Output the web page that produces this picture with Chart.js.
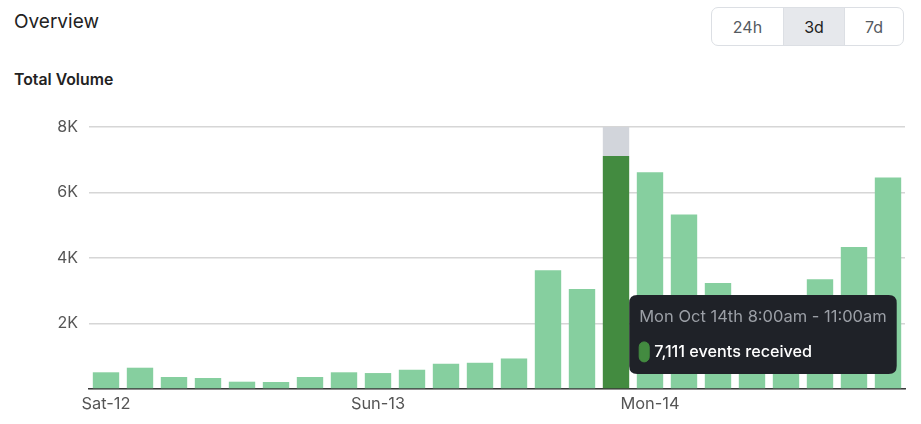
<!DOCTYPE html>
<html>
<head>
<meta charset="utf-8">
<script src="https://cdn.jsdelivr.net/npm/chart.js@4/dist/chart.umd.min.js"></script>
<style>
  html, body { margin: 0; padding: 0; background: #fff; }
  body { width: 921px; height: 424px; position: relative; overflow: hidden; font-family: Inter, "Noto Sans", sans-serif; }
  .title { position: absolute; left: 14px; top: 9px; font-size: 19px; color: #222; line-height: 26px; }
  .sub { position: absolute; left: 14px; top: 70px; font-size: 15.8px; font-weight: 600; color: #222; line-height: 20px; }
  .seg { position: absolute; left: 711px; top: 7px; width: 191px; height: 37px; border: 1px solid #dcdfe4; border-radius: 7px; display: flex; overflow: hidden; }
  .seg div { display: flex; align-items: center; justify-content: center; font-size: 16px; color: #555a61; }
  .seg .b1 { width: 71px; border-right: 1px solid #dcdfe4; }
  .seg .b2 { width: 60px; border-right: 1px solid #dcdfe4; background: #e6e8ec; color: #222; }
  .seg .b3 { flex: 1; }
  .wrap { position: absolute; left: 0; top: 100px; width: 921px; height: 324px; }
</style>
</head>
<body>
<div class="title">Overview</div>
<div class="seg"><div class="b1">24h</div><div class="b2">3d</div><div class="b3">7d</div></div>
<div class="sub">Total Volume</div>
<div class="wrap"><canvas id="c"></canvas></div>
<script>
// ---- data ----
const tickLabels = ['Sat-12', '', '', '', '', '', '', '', 'Sun-13', '', '', '', '', '', '', '', 'Mon-14', '', '', '', '', '', '', ''];
const events = [510, 650, 366, 336, 223, 214, 366, 510, 487, 588, 771, 801, 932, 3625, 3055, 7111, 6619, 5331, 3238, 2400, 2600, 3350, 4335, 6457];
const dayNames = ['Sat Oct 12th', 'Sun Oct 13th', 'Mon Oct 14th'];
const firstBucketHour = 11; // Sat 11:00am, 3-hour buckets
const bucketHours = 3;
const hoveredIndex = 15;
const yMax = 8000;
const yStep = 2000;

const lightGreen = '#86cf9f';
const darkGreen = '#438b40';
const hoverGray = '#d2d5db';

function fmtHour(h) {
  const hh = ((h % 24) + 24) % 24;
  const ap = hh < 12 ? 'am' : 'pm';
  let d = hh % 12; if (d === 0) d = 12;
  return d + ':00' + ap;
}
function bucketTitle(i) {
  const start = firstBucketHour + i * bucketHours;
  const day = dayNames[Math.floor(start / 24)] || '';
  return day + ' ' + fmtHour(start) + ' - ' + fmtHour(start + bucketHours);
}

const highlight = events.map((v, i) => i === hoveredIndex ? yMax - v : null);
const colors = events.map((v, i) => i === hoveredIndex ? darkGreen : lightGreen);

Chart.defaults.font.family = 'Inter, "Noto Sans", sans-serif';

Chart.Tooltip.positioners.rightOfBar = function (elements) {
  if (!elements.length) return false;
  const el = elements[0].element;
  return { x: el.x + el.width / 2, y: this.chart.chartArea.bottom - 54.5, xAlign: 'left', yAlign: 'center' };
};

const chart = new Chart(document.getElementById('c'), {
  type: 'bar',
  data: {
    labels: tickLabels,
    datasets: [
      { label: 'events', data: events, backgroundColor: colors, barPercentage: 0.97, categoryPercentage: 0.8, borderWidth: 0 },
      { label: 'hover', data: highlight, backgroundColor: hoverGray, barPercentage: 0.97, categoryPercentage: 0.8, borderWidth: 0 }
    ]
  },
  options: {
    responsive: true,
    maintainAspectRatio: false,
    animation: false,
    events: [],
    layout: { padding: { top: 27, right: 16, left: 0, bottom: 0 } },
    plugins: {
      legend: { display: false },
      tooltip: {
        enabled: true,
        position: 'rightOfBar',
        filter: (item) => item.datasetIndex === 0,
        backgroundColor: '#1f2228',
        titleColor: '#9b9fa6',
        bodyColor: '#ffffff',
        titleFont: { size: 16.5, weight: '400' },
        bodyFont: { size: 16.2, weight: '500' },
        titleMarginBottom: 15,
        padding: { top: 12, bottom: 12, left: 10, right: 10 },
        cornerRadius: 8,
        caretSize: 0,
        caretPadding: 0,
        displayColors: true,
        boxWidth: 10,
        boxHeight: 20,
        boxPadding: 3,
        multiKeyBackground: darkGreen,
        callbacks: {
          title: (items) => bucketTitle(items[0].dataIndex),
          label: (item) => item.raw.toLocaleString('en-US') + ' events received',
          labelColor: () => ({ borderColor: darkGreen, backgroundColor: darkGreen, borderWidth: 1, borderRadius: 5 })
        }
      }
    },
    scales: {
      x: {
        stacked: true,
        grid: { display: false, drawTicks: false },
        border: { display: true, color: '#3a3a3a', width: 1.5 },
        ticks: { autoSkip: false, maxRotation: 0, padding: 5, color: '#555', font: { size: 16.4 } },
        afterFit: (s) => { s.height = 35; }
      },
      y: {
        stacked: true,
        min: 0,
        max: yMax,
        grid: { color: '#d6d6d6', lineWidth: 1.5, drawTicks: false },
        border: { display: false },
        ticks: {
          stepSize: yStep,
          padding: 11,
          color: '#555',
          font: { size: 16 },
          callback: (v) => v === 0 ? '' : (v / 1000) + 'K'
        },
        afterFit: (s) => { s.width = 89; }
      }
    }
  }
});

const meta = chart.getDatasetMeta(0);
const el = meta.data[hoveredIndex];
chart.tooltip.setActiveElements([{ datasetIndex: 0, index: hoveredIndex }], { x: el.x, y: el.y });
chart.update('none');
</script>
</body>
</html>
